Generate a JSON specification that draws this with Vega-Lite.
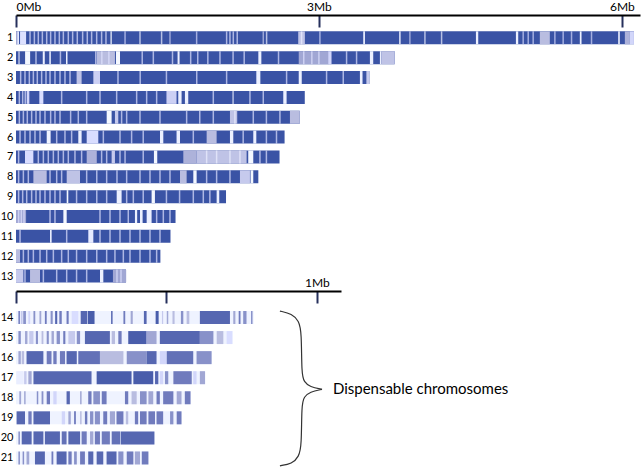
{
"$schema":"https://vega.github.io/schema/vega-lite/v6.json",
"padding":{"left":0,"top":0,"right":0,"bottom":0},
"bounds":"flush",
"spacing":5,
"config":{"view":{"stroke":null},"font":"Lato","axis":{"labelFont":"Lato","labelColor":"#000","grid":false,"title":null,"labelOverlap":false}},
"datasets":{
"chromosomes":[
{"chr":1,"start":0,"length":6.12,"density":1},{"chr":2,"start":0,"length":3.75,"density":1},{"chr":3,"start":0,"length":3.5,"density":1},{"chr":4,"start":0,"length":2.86,"density":1},{"chr":5,"start":0,"length":2.81,"density":1},{"chr":6,"start":0,"length":2.66,"density":1},{"chr":7,"start":0,"length":2.61,"density":1},{"chr":8,"start":0,"length":2.4,"density":1},{"chr":9,"start":0,"length":2.08,"density":1},{"chr":10,"start":0,"length":1.58,"density":1},{"chr":11,"start":0,"length":1.53,"density":1},{"chr":12,"start":0,"length":1.43,"density":1},{"chr":13,"start":0,"length":1.09,"density":1},
{"chr":14,"start":0,"length":0.79,"density":0.08},{"chr":15,"start":0,"length":0.72,"density":0.08},{"chr":16,"start":0,"length":0.65,"density":0.08},{"chr":17,"start":0,"length":0.63,"density":0.08},{"chr":18,"start":0,"length":0.58,"density":0.08},{"chr":19,"start":0,"length":0.55,"density":0.08},{"chr":20,"start":0,"length":0.46,"density":0.08},{"chr":21,"start":0,"length":0.44,"density":0.08}],
"regions":[
{"chr":1,"start":0,"end":0.012,"density":0.6},{"chr":1,"start":0.012,"end":0.03,"density":0.15},{"chr":1,"start":0.04,"end":0.1,"density":0.22},{"chr":1,"start":0.936,"end":0.948,"density":0.05},{"chr":1,"start":2.795,"end":2.861,"density":0.45},{"chr":1,"start":3.439,"end":3.456,"density":0.1},{"chr":1,"start":3.795,"end":3.809,"density":0.1},{"chr":1,"start":4.555,"end":4.578,"density":0.1},{"chr":1,"start":4.951,"end":4.974,"density":0.1},{"chr":1,"start":5.188,"end":5.287,"density":0.5},{"chr":1,"start":5.584,"end":5.601,"density":0.1},{"chr":1,"start":5.964,"end":5.98,"density":0.1},{"chr":1,"start":6.03,"end":6.08,"density":0.55},{"chr":1,"start":6.08,"end":6.12,"density":0.3},
{"chr":2,"start":0.09,"end":0.14,"density":0.05},{"chr":2,"start":0.265,"end":0.285,"density":0.1},{"chr":2,"start":0.33,"end":0.345,"density":0.1},{"chr":2,"start":0.495,"end":0.51,"density":0.1},{"chr":2,"start":0.8,"end":0.98,"density":0.5},{"chr":2,"start":0.99,"end":1.03,"density":0.03},{"chr":2,"start":1.6,"end":1.62,"density":0.1},{"chr":2,"start":2.4,"end":2.43,"density":0.1},{"chr":2,"start":2.8,"end":3.1,"density":0.6},{"chr":2,"start":3.093,"end":3.125,"density":0.3},{"chr":2,"start":3.505,"end":3.538,"density":0.1},{"chr":2,"start":3.604,"end":3.62,"density":0.1},{"chr":2,"start":3.62,"end":3.75,"density":0.45},
{"chr":3,"start":0.6,"end":0.65,"density":0.45},{"chr":3,"start":0.766,"end":0.832,"density":0.35},{"chr":3,"start":2.38,"end":2.42,"density":0.1},{"chr":3,"start":2.8,"end":2.83,"density":0.1},{"chr":3,"start":3.406,"end":3.432,"density":0.1},{"chr":3,"start":3.47,"end":3.5,"density":0.4},
{"chr":4,"start":0.106,"end":0.132,"density":0.3},{"chr":4,"start":0.231,"end":0.271,"density":0.25},{"chr":4,"start":1.49,"end":1.59,"density":0.35},{"chr":4,"start":1.607,"end":1.64,"density":0.1},{"chr":4,"start":1.673,"end":1.706,"density":0.1},{"chr":4,"start":2.647,"end":2.68,"density":0.1},
{"chr":5,"start":0.898,"end":0.947,"density":0.05},{"chr":5,"start":0.98,"end":1.013,"density":0.4},{"chr":5,"start":2.119,"end":2.191,"density":0.45},{"chr":5,"start":2.713,"end":2.81,"density":0.5},
{"chr":6,"start":0.304,"end":0.343,"density":0.08},{"chr":6,"start":0.617,"end":0.65,"density":0.1},{"chr":6,"start":0.7,"end":0.815,"density":0.25},{"chr":6,"start":1.426,"end":1.459,"density":0.1},{"chr":6,"start":1.59,"end":1.624,"density":0.1},{"chr":6,"start":1.888,"end":1.987,"density":0.5},{"chr":6,"start":2.119,"end":2.152,"density":0.1},{"chr":6,"start":2.35,"end":2.38,"density":0.1},
{"chr":7,"start":0.089,"end":0.172,"density":0.25},{"chr":7,"start":0.7,"end":0.8,"density":0.55},{"chr":7,"start":0.947,"end":0.98,"density":0.4},{"chr":7,"start":1.366,"end":1.399,"density":0.05},{"chr":7,"start":1.657,"end":1.789,"density":0.55},{"chr":7,"start":1.789,"end":2.284,"density":0.45},{"chr":7,"start":2.3,"end":2.35,"density":0.05},
{"chr":8,"start":0.172,"end":0.304,"density":0.5},{"chr":8,"start":0.502,"end":0.634,"density":0.45},{"chr":8,"start":1.624,"end":1.69,"density":0.5},{"chr":8,"start":1.756,"end":1.789,"density":0.05},{"chr":8,"start":2.218,"end":2.317,"density":0.4},{"chr":8,"start":2.323,"end":2.35,"density":0.05},
{"chr":9,"start":0.502,"end":0.518,"density":0.05},{"chr":9,"start":0.997,"end":1.046,"density":0.1},{"chr":9,"start":1.343,"end":1.376,"density":0.05},{"chr":9,"start":1.987,"end":2.013,"density":0.1},
{"chr":10,"start":0,"end":0.1,"density":0.6},{"chr":10,"start":0.469,"end":0.502,"density":0.05},{"chr":10,"start":1.178,"end":1.2,"density":0.1},{"chr":10,"start":1.228,"end":1.254,"density":0.1},{"chr":10,"start":1.294,"end":1.343,"density":0.1},
{"chr":11,"start":0.337,"end":0.353,"density":0.1},{"chr":11,"start":0.716,"end":0.766,"density":0.15},
{"chr":12,"start":0,"end":0.04,"density":0.5},
{"chr":13,"start":0,"end":0.073,"density":0.4},{"chr":13,"start":0.139,"end":0.238,"density":0.5},{"chr":13,"start":0.832,"end":0.865,"density":0.1},{"chr":13,"start":0.96,"end":1.09,"density":0.6},
{"chr":14,"start":0.008,"end":0.013,"density":0.8},{"chr":14,"start":0.016,"end":0.022,"density":0.4},{"chr":14,"start":0.024,"end":0.033,"density":0.7},{"chr":14,"start":0.041,"end":0.047,"density":0.3},{"chr":14,"start":0.058,"end":0.064,"density":0.7},{"chr":14,"start":0.078,"end":0.084,"density":0.6},{"chr":14,"start":0.096,"end":0.102,"density":0.8},{"chr":14,"start":0.115,"end":0.122,"density":0.7},{"chr":14,"start":0.13,"end":0.137,"density":0.9},{"chr":14,"start":0.144,"end":0.152,"density":0.8},{"chr":14,"start":0.168,"end":0.175,"density":0.8},{"chr":14,"start":0.185,"end":0.207,"density":0.25},{"chr":14,"start":0.215,"end":0.237,"density":0.9},{"chr":14,"start":0.239,"end":0.261,"density":0.95},{"chr":14,"start":0.316,"end":0.321,"density":0.9},{"chr":14,"start":0.357,"end":0.363,"density":0.8},{"chr":14,"start":0.381,"end":0.388,"density":0.6},{"chr":14,"start":0.425,"end":0.434,"density":0.9},{"chr":14,"start":0.464,"end":0.474,"density":0.95},{"chr":14,"start":0.485,"end":0.489,"density":0.4},{"chr":14,"start":0.501,"end":0.506,"density":0.6},{"chr":14,"start":0.52,"end":0.527,"density":0.5},{"chr":14,"start":0.548,"end":0.556,"density":0.7},{"chr":14,"start":0.567,"end":0.576,"density":0.5},{"chr":14,"start":0.611,"end":0.711,"density":0.9},{"chr":14,"start":0.722,"end":0.729,"density":0.6},{"chr":14,"start":0.74,"end":0.746,"density":0.8},{"chr":14,"start":0.755,"end":0.766,"density":0.7},{"chr":14,"start":0.781,"end":0.786,"density":0.7},
{"chr":15,"start":0.008,"end":0.016,"density":0.7},{"chr":15,"start":0.03,"end":0.038,"density":0.6},{"chr":15,"start":0.044,"end":0.058,"density":0.4},{"chr":15,"start":0.066,"end":0.073,"density":0.7},{"chr":15,"start":0.085,"end":0.091,"density":0.5},{"chr":15,"start":0.102,"end":0.109,"density":0.7},{"chr":15,"start":0.118,"end":0.126,"density":0.6},{"chr":15,"start":0.135,"end":0.146,"density":0.7},{"chr":15,"start":0.157,"end":0.164,"density":0.8},{"chr":15,"start":0.174,"end":0.196,"density":0.4},{"chr":15,"start":0.202,"end":0.213,"density":0.7},{"chr":15,"start":0.229,"end":0.312,"density":0.9},{"chr":15,"start":0.318,"end":0.329,"density":0.5},{"chr":15,"start":0.34,"end":0.351,"density":0.8},{"chr":15,"start":0.373,"end":0.434,"density":0.95},{"chr":15,"start":0.434,"end":0.467,"density":0.6},{"chr":15,"start":0.478,"end":0.611,"density":0.9},{"chr":15,"start":0.611,"end":0.656,"density":0.7},{"chr":15,"start":0.667,"end":0.689,"density":0.5},{"chr":15,"start":0.7,"end":0.719,"density":0.25},
{"chr":16,"start":0.008,"end":0.016,"density":0.6},{"chr":16,"start":0.019,"end":0.027,"density":0.5},{"chr":16,"start":0.035,"end":0.091,"density":0.9},{"chr":16,"start":0.102,"end":0.118,"density":0.8},{"chr":16,"start":0.124,"end":0.135,"density":0.8},{"chr":16,"start":0.146,"end":0.163,"density":0.8},{"chr":16,"start":0.168,"end":0.202,"density":0.9},{"chr":16,"start":0.207,"end":0.279,"density":0.85},{"chr":16,"start":0.279,"end":0.357,"density":0.5},{"chr":16,"start":0.368,"end":0.434,"density":0.7},{"chr":16,"start":0.434,"end":0.467,"density":0.9},{"chr":16,"start":0.478,"end":0.501,"density":0.3},{"chr":16,"start":0.501,"end":0.589,"density":0.85},{"chr":16,"start":0.6,"end":0.65,"density":0.7},
{"chr":17,"start":0.002,"end":0.024,"density":0.12},{"chr":17,"start":0.027,"end":0.035,"density":0.4},{"chr":17,"start":0.041,"end":0.052,"density":0.6},{"chr":17,"start":0.058,"end":0.251,"density":0.9},{"chr":17,"start":0.268,"end":0.384,"density":0.95},{"chr":17,"start":0.39,"end":0.456,"density":0.95},{"chr":17,"start":0.462,"end":0.473,"density":0.9},{"chr":17,"start":0.478,"end":0.489,"density":0.3},{"chr":17,"start":0.495,"end":0.506,"density":0.7},{"chr":17,"start":0.523,"end":0.584,"density":0.8},{"chr":17,"start":0.589,"end":0.6,"density":0.3},{"chr":17,"start":0.611,"end":0.628,"density":0.6},
{"chr":18,"start":0.011,"end":0.017,"density":0.6},{"chr":18,"start":0.027,"end":0.032,"density":0.6},{"chr":18,"start":0.069,"end":0.074,"density":0.7},{"chr":18,"start":0.085,"end":0.091,"density":0.7},{"chr":18,"start":0.102,"end":0.113,"density":0.8},{"chr":18,"start":0.124,"end":0.135,"density":0.3},{"chr":18,"start":0.168,"end":0.179,"density":0.9},{"chr":18,"start":0.213,"end":0.218,"density":0.6},{"chr":18,"start":0.24,"end":0.251,"density":0.8},{"chr":18,"start":0.257,"end":0.279,"density":0.7},{"chr":18,"start":0.285,"end":0.301,"density":0.8},{"chr":18,"start":0.362,"end":0.373,"density":0.8},{"chr":18,"start":0.384,"end":0.401,"density":0.5},{"chr":18,"start":0.412,"end":0.434,"density":0.7},{"chr":18,"start":0.44,"end":0.456,"density":0.6},{"chr":18,"start":0.467,"end":0.478,"density":0.8},{"chr":18,"start":0.489,"end":0.523,"density":0.8},{"chr":18,"start":0.534,"end":0.55,"density":0.6},{"chr":18,"start":0.561,"end":0.58,"density":0.8},
{"chr":19,"start":0.002,"end":0.03,"density":0.9},{"chr":19,"start":0.041,"end":0.052,"density":0.8},{"chr":19,"start":0.058,"end":0.113,"density":0.9},{"chr":19,"start":0.152,"end":0.163,"density":0.3},{"chr":19,"start":0.174,"end":0.182,"density":0.6},{"chr":19,"start":0.193,"end":0.199,"density":0.8},{"chr":19,"start":0.213,"end":0.218,"density":0.5},{"chr":19,"start":0.229,"end":0.237,"density":0.8},{"chr":19,"start":0.246,"end":0.257,"density":0.7},{"chr":19,"start":0.262,"end":0.279,"density":0.7},{"chr":19,"start":0.29,"end":0.303,"density":0.8},{"chr":19,"start":0.312,"end":0.329,"density":0.6},{"chr":19,"start":0.334,"end":0.357,"density":0.8},{"chr":19,"start":0.365,"end":0.373,"density":0.5},{"chr":19,"start":0.395,"end":0.406,"density":0.8},{"chr":19,"start":0.412,"end":0.434,"density":0.8},{"chr":19,"start":0.44,"end":0.462,"density":0.8},{"chr":19,"start":0.467,"end":0.489,"density":0.8},{"chr":19,"start":0.512,"end":0.523,"density":0.7},{"chr":19,"start":0.534,"end":0.55,"density":0.8},
{"chr":20,"start":0.008,"end":0.013,"density":0.7},{"chr":20,"start":0.019,"end":0.052,"density":0.9},{"chr":20,"start":0.058,"end":0.091,"density":0.9},{"chr":20,"start":0.096,"end":0.146,"density":0.9},{"chr":20,"start":0.152,"end":0.168,"density":0.85},{"chr":20,"start":0.174,"end":0.213,"density":0.9},{"chr":20,"start":0.218,"end":0.235,"density":0.8},{"chr":20,"start":0.246,"end":0.257,"density":0.6},{"chr":20,"start":0.262,"end":0.279,"density":0.8},{"chr":20,"start":0.285,"end":0.312,"density":0.8},{"chr":20,"start":0.318,"end":0.346,"density":0.85},{"chr":20,"start":0.348,"end":0.46,"density":0.9},
{"chr":21,"start":0.008,"end":0.013,"density":0.7},{"chr":21,"start":0.022,"end":0.027,"density":0.7},{"chr":21,"start":0.035,"end":0.044,"density":0.6},{"chr":21,"start":0.063,"end":0.096,"density":0.9},{"chr":21,"start":0.118,"end":0.124,"density":0.8},{"chr":21,"start":0.135,"end":0.168,"density":0.9},{"chr":21,"start":0.174,"end":0.185,"density":0.8},{"chr":21,"start":0.193,"end":0.202,"density":0.7},{"chr":21,"start":0.213,"end":0.229,"density":0.8},{"chr":21,"start":0.24,"end":0.257,"density":0.9},{"chr":21,"start":0.268,"end":0.29,"density":0.9},{"chr":21,"start":0.301,"end":0.334,"density":0.9},{"chr":21,"start":0.34,"end":0.357,"density":0.7},{"chr":21,"start":0.368,"end":0.39,"density":0.8},{"chr":21,"start":0.395,"end":0.412,"density":0.6},{"chr":21,"start":0.418,"end":0.44,"density":0.8}],
"stripes":[
{"chr":1,"pos":0.139,"density":0.2},{"chr":1,"pos":0.182,"density":0.2},{"chr":1,"pos":0.221,"density":0.2},{"chr":1,"pos":0.261,"density":0.2},{"chr":1,"pos":0.304,"density":0.2},{"chr":1,"pos":0.343,"density":0.2},{"chr":1,"pos":0.386,"density":0.2},{"chr":1,"pos":0.429,"density":0.2},{"chr":1,"pos":0.469,"density":0.2},{"chr":1,"pos":0.518,"density":0.2},{"chr":1,"pos":0.561,"density":0.2},{"chr":1,"pos":0.607,"density":0.2},{"chr":1,"pos":0.66,"density":0.2},{"chr":1,"pos":0.706,"density":0.2},{"chr":1,"pos":0.749,"density":0.2},{"chr":1,"pos":0.799,"density":0.2},{"chr":1,"pos":0.848,"density":0.2},{"chr":1,"pos":0.891,"density":0.2},{"chr":1,"pos":1.08,"density":0.3},{"chr":1,"pos":1.228,"density":0.1},{"chr":1,"pos":1.442,"density":0.1},{"chr":1,"pos":1.525,"density":0.4},{"chr":1,"pos":1.789,"density":0.3},{"chr":1,"pos":2.086,"density":0.2},{"chr":1,"pos":2.119,"density":0.2},{"chr":1,"pos":2.152,"density":0.2},{"chr":1,"pos":2.191,"density":0.2},{"chr":1,"pos":2.449,"density":0.4},{"chr":1,"pos":2.482,"density":0.1},{"chr":1,"pos":2.828,"density":0.1},{"chr":1,"pos":3.01,"density":0.3},{"chr":1,"pos":3.901,"density":0.4},{"chr":1,"pos":4.05,"density":0.1},{"chr":1,"pos":4.215,"density":0.1},{"chr":1,"pos":5.023,"density":0.3},{"chr":1,"pos":5.073,"density":0.3},{"chr":1,"pos":5.122,"density":0.3},{"chr":1,"pos":5.337,"density":0.3},{"chr":1,"pos":5.419,"density":0.3},{"chr":1,"pos":5.502,"density":0.3},{"chr":1,"pos":5.7,"density":0.3},
{"chr":2,"pos":0.03,"density":0.1},{"chr":2,"pos":0.198,"density":0.2},{"chr":2,"pos":0.44,"density":0.2},{"chr":2,"pos":0.79,"density":0.2},{"chr":2,"pos":0.85,"density":0.2},{"chr":2,"pos":0.92,"density":0.2},{"chr":2,"pos":1.25,"density":0.2},{"chr":2,"pos":1.36,"density":0.2},{"chr":2,"pos":1.55,"density":0.2},{"chr":2,"pos":1.73,"density":0.2},{"chr":2,"pos":1.8,"density":0.2},{"chr":2,"pos":1.9,"density":0.2},{"chr":2,"pos":2.02,"density":0.2},{"chr":2,"pos":2.15,"density":0.2},{"chr":2,"pos":2.26,"density":0.2},{"chr":2,"pos":2.6,"density":0.2},{"chr":2,"pos":2.85,"density":0.2},{"chr":2,"pos":2.93,"density":0.2},{"chr":2,"pos":3.0,"density":0.2},{"chr":2,"pos":3.274,"density":0.2},{"chr":2,"pos":3.373,"density":0.2},
{"chr":3,"pos":0.046,"density":0.2},{"chr":3,"pos":0.089,"density":0.2},{"chr":3,"pos":0.132,"density":0.2},{"chr":3,"pos":0.172,"density":0.2},{"chr":3,"pos":0.211,"density":0.2},{"chr":3,"pos":0.254,"density":0.2},{"chr":3,"pos":0.297,"density":0.2},{"chr":3,"pos":0.337,"density":0.2},{"chr":3,"pos":0.386,"density":0.2},{"chr":3,"pos":0.436,"density":0.2},{"chr":3,"pos":0.485,"density":0.2},{"chr":3,"pos":0.535,"density":0.2},{"chr":3,"pos":1.01,"density":0.2},{"chr":3,"pos":1.23,"density":0.2},{"chr":3,"pos":1.49,"density":0.2},{"chr":3,"pos":1.79,"density":0.2},{"chr":3,"pos":2.086,"density":0.2},{"chr":3,"pos":2.68,"density":0.2},{"chr":3,"pos":3.076,"density":0.2},{"chr":3,"pos":3.241,"density":0.2},
{"chr":4,"pos":0.033,"density":0.2},{"chr":4,"pos":0.066,"density":0.2},{"chr":4,"pos":0.092,"density":0.2},{"chr":4,"pos":0.452,"density":0.2},{"chr":4,"pos":0.7,"density":0.2},{"chr":4,"pos":0.832,"density":0.2},{"chr":4,"pos":0.997,"density":0.2},{"chr":4,"pos":1.195,"density":0.2},{"chr":4,"pos":1.294,"density":0.2},{"chr":4,"pos":1.393,"density":0.2},{"chr":4,"pos":1.954,"density":0.2},{"chr":4,"pos":2.15,"density":0.1},{"chr":4,"pos":2.317,"density":0.2},{"chr":4,"pos":2.449,"density":0.2},
{"chr":5,"pos":0.033,"density":0.2},{"chr":5,"pos":0.073,"density":0.2},{"chr":5,"pos":0.112,"density":0.2},{"chr":5,"pos":0.155,"density":0.2},{"chr":5,"pos":0.198,"density":0.2},{"chr":5,"pos":0.238,"density":0.2},{"chr":5,"pos":0.287,"density":0.2},{"chr":5,"pos":0.343,"density":0.2},{"chr":5,"pos":0.386,"density":0.2},{"chr":5,"pos":0.436,"density":0.2},{"chr":5,"pos":0.541,"density":0.2},{"chr":5,"pos":0.617,"density":0.2},{"chr":5,"pos":0.7,"density":0.2},{"chr":5,"pos":1.046,"density":0.2},{"chr":5,"pos":1.096,"density":0.2},{"chr":5,"pos":1.228,"density":0.2},{"chr":5,"pos":1.426,"density":0.2},{"chr":5,"pos":1.69,"density":0.2},{"chr":5,"pos":1.82,"density":0.2},{"chr":5,"pos":1.954,"density":0.2},{"chr":5,"pos":2.168,"density":0.1},{"chr":5,"pos":2.35,"density":0.2},{"chr":5,"pos":2.48,"density":0.2},{"chr":5,"pos":2.614,"density":0.2},
{"chr":6,"pos":0.04,"density":0.2},{"chr":6,"pos":0.089,"density":0.2},{"chr":6,"pos":0.139,"density":0.2},{"chr":6,"pos":0.188,"density":0.2},{"chr":6,"pos":0.238,"density":0.2},{"chr":6,"pos":0.403,"density":0.2},{"chr":6,"pos":0.485,"density":0.2},{"chr":6,"pos":0.551,"density":0.2},{"chr":6,"pos":0.865,"density":0.2},{"chr":6,"pos":1.03,"density":0.2},{"chr":6,"pos":1.145,"density":0.2},{"chr":6,"pos":1.26,"density":0.2},{"chr":6,"pos":1.756,"density":0.2},{"chr":6,"pos":2.25,"density":0.2},{"chr":6,"pos":2.48,"density":0.2},{"chr":6,"pos":2.58,"density":0.2},
{"chr":7,"pos":0.026,"density":0.2},{"chr":7,"pos":0.221,"density":0.2},{"chr":7,"pos":0.271,"density":0.2},{"chr":7,"pos":0.32,"density":0.2},{"chr":7,"pos":0.37,"density":0.2},{"chr":7,"pos":0.419,"density":0.2},{"chr":7,"pos":0.469,"density":0.2},{"chr":7,"pos":0.518,"density":0.2},{"chr":7,"pos":0.584,"density":0.2},{"chr":7,"pos":0.65,"density":0.2},{"chr":7,"pos":0.848,"density":0.2},{"chr":7,"pos":0.898,"density":0.2},{"chr":7,"pos":1.03,"density":0.2},{"chr":7,"pos":1.08,"density":0.2},{"chr":7,"pos":1.26,"density":0.2},{"chr":7,"pos":1.888,"density":0.1},{"chr":7,"pos":1.987,"density":0.1},{"chr":7,"pos":2.119,"density":0.1},{"chr":7,"pos":2.218,"density":0.1},{"chr":7,"pos":2.416,"density":0.2},{"chr":7,"pos":2.48,"density":0.2},
{"chr":8,"pos":0.026,"density":0.2},{"chr":8,"pos":0.073,"density":0.2},{"chr":8,"pos":0.122,"density":0.2},{"chr":8,"pos":0.337,"density":0.2},{"chr":8,"pos":0.403,"density":0.2},{"chr":8,"pos":0.452,"density":0.2},{"chr":8,"pos":0.7,"density":0.2},{"chr":8,"pos":0.8,"density":0.2},{"chr":8,"pos":0.898,"density":0.2},{"chr":8,"pos":1.0,"density":0.2},{"chr":8,"pos":1.096,"density":0.2},{"chr":8,"pos":1.228,"density":0.2},{"chr":8,"pos":1.327,"density":0.2},{"chr":8,"pos":1.426,"density":0.2},{"chr":8,"pos":1.525,"density":0.2},{"chr":8,"pos":1.888,"density":0.2},{"chr":8,"pos":1.987,"density":0.2},{"chr":8,"pos":2.119,"density":0.2},
{"chr":9,"pos":0.026,"density":0.2},{"chr":9,"pos":0.066,"density":0.2},{"chr":9,"pos":0.106,"density":0.2},{"chr":9,"pos":0.155,"density":0.2},{"chr":9,"pos":0.198,"density":0.2},{"chr":9,"pos":0.238,"density":0.2},{"chr":9,"pos":0.287,"density":0.2},{"chr":9,"pos":0.337,"density":0.2},{"chr":9,"pos":0.386,"density":0.2},{"chr":9,"pos":0.436,"density":0.2},{"chr":9,"pos":0.6,"density":0.2},{"chr":9,"pos":0.7,"density":0.2},{"chr":9,"pos":0.8,"density":0.2},{"chr":9,"pos":0.898,"density":0.2},{"chr":9,"pos":1.096,"density":0.2},{"chr":9,"pos":1.162,"density":0.2},{"chr":9,"pos":1.26,"density":0.2},{"chr":9,"pos":1.49,"density":0.2},{"chr":9,"pos":1.62,"density":0.2},{"chr":9,"pos":1.756,"density":0.2},{"chr":9,"pos":1.855,"density":0.2},{"chr":9,"pos":1.92,"density":0.2},
{"chr":10,"pos":0.026,"density":0.2},{"chr":10,"pos":0.053,"density":0.2},{"chr":10,"pos":0.079,"density":0.2},{"chr":10,"pos":0.337,"density":0.2},{"chr":10,"pos":0.386,"density":0.2},{"chr":10,"pos":0.832,"density":0.2},{"chr":10,"pos":0.931,"density":0.2},{"chr":10,"pos":1.03,"density":0.2},{"chr":10,"pos":1.112,"density":0.2},{"chr":10,"pos":1.393,"density":0.2},{"chr":10,"pos":1.459,"density":0.2},{"chr":10,"pos":1.525,"density":0.2},
{"chr":11,"pos":0.04,"density":0.2},{"chr":11,"pos":0.502,"density":0.2},{"chr":11,"pos":0.832,"density":0.2},{"chr":11,"pos":0.931,"density":0.2},{"chr":11,"pos":1.03,"density":0.2},{"chr":11,"pos":1.129,"density":0.2},{"chr":11,"pos":1.228,"density":0.2},{"chr":11,"pos":1.327,"density":0.2},{"chr":11,"pos":1.426,"density":0.2},
{"chr":12,"pos":0.073,"density":0.2},{"chr":12,"pos":0.122,"density":0.2},{"chr":12,"pos":0.172,"density":0.2},{"chr":12,"pos":0.238,"density":0.2},{"chr":12,"pos":0.304,"density":0.2},{"chr":12,"pos":0.37,"density":0.2},{"chr":12,"pos":0.452,"density":0.2},{"chr":12,"pos":0.518,"density":0.2},{"chr":12,"pos":0.6,"density":0.2},{"chr":12,"pos":0.7,"density":0.2},{"chr":12,"pos":0.8,"density":0.2},{"chr":12,"pos":0.898,"density":0.2},{"chr":12,"pos":0.98,"density":0.2},{"chr":12,"pos":1.063,"density":0.2},{"chr":12,"pos":1.129,"density":0.2},{"chr":12,"pos":1.228,"density":0.2},{"chr":12,"pos":1.327,"density":0.2},{"chr":12,"pos":1.393,"density":0.2},
{"chr":13,"pos":0.089,"density":0.2},{"chr":13,"pos":0.271,"density":0.2},{"chr":13,"pos":0.403,"density":0.2},{"chr":13,"pos":0.502,"density":0.2},{"chr":13,"pos":0.6,"density":0.2},{"chr":13,"pos":0.7,"density":0.2},{"chr":13,"pos":1.0,"density":0.2},{"chr":13,"pos":1.04,"density":0.2}],
"brace":[
{"part":"upper","seq":1,"pos":0.877,"row":13.68},{"part":"upper","seq":2,"pos":0.917,"row":13.82},{"part":"upper","seq":3,"pos":0.94,"row":14.17},{"part":"upper","seq":4,"pos":0.949,"row":14.72},{"part":"upper","seq":5,"pos":0.949,"row":16.81},{"part":"upper","seq":6,"pos":0.957,"row":17.21},{"part":"upper","seq":7,"pos":0.977,"row":17.46},{"part":"upper","seq":8,"pos":1.017,"row":17.58},
{"part":"lower","seq":1,"pos":1.017,"row":17.58},{"part":"lower","seq":2,"pos":0.977,"row":17.7},{"part":"lower","seq":3,"pos":0.957,"row":17.95},{"part":"lower","seq":4,"pos":0.949,"row":18.35},{"part":"lower","seq":5,"pos":0.949,"row":20.39},{"part":"lower","seq":6,"pos":0.94,"row":20.94},{"part":"lower","seq":7,"pos":0.917,"row":21.29},{"part":"lower","seq":8,"pos":0.877,"row":21.39}],
"note":[{"label":"Dispensable chromosomes","pos":1.053,"row":17.58}]
},
"vconcat":[
{"width":624,"height":271,
"layer":[
{"data":{"name":"chromosomes"},"transform":[{"filter":"datum.chr <= 13"}],
"mark":{"type":"rule","strokeWidth":13,"strokeCap":"butt"},
"encoding":{
"x":{"field":"start","type":"quantitative","scale":{"domain":[0,6.18],"nice":false,"zero":false},"axis":{"orient":"top","values":[0,3,6],"labelExpr":"datum.value + 'Mb'","domainColor":"#000","domainWidth":2,"tickColor":"#26305c","tickWidth":2,"tickSize":-12,"labelPadding":14,"labelFontSize":12,"labelFlush":true}},
"x2":{"field":"length"},
"y":{"field":"chr","type":"quantitative","scale":{"domain":[-0.15,13.5],"reverse":true,"nice":false,"zero":false},"axis":{"values":[1,2,3,4,5,6,7,8,9,10,11,12,13],"tickCount":40,"format":"d","labelOverlap":false,"labelBound":false,"labelFlush":false,"domain":false,"ticks":false,"labelPadding":3,"labelFontSize":11}},
"color":{"field":"density","type":"quantitative","scale":{"domain":[0,0.5,1],"range":["#ffffff","#b9bde0","#3a53a5"]},"legend":null}}},
{"data":{"name":"regions"},"transform":[{"filter":"datum.chr <= 13"}],
"mark":{"type":"rule","strokeWidth":13,"strokeCap":"butt"},
"encoding":{
"x":{"field":"start","type":"quantitative"},"x2":{"field":"end"},
"y":{"field":"chr","type":"quantitative"},
"color":{"field":"density","type":"quantitative","legend":null}}},
{"data":{"name":"stripes"},"transform":[{"filter":"datum.chr <= 13"}],
"mark":{"type":"tick","orient":"vertical","size":13,"thickness":1.5},
"encoding":{
"x":{"field":"pos","type":"quantitative"},
"y":{"field":"chr","type":"quantitative"},
"color":{"field":"density","type":"quantitative","legend":null}}}
]},
{"width":325,"height":175,
"layer":[
{"data":{"name":"chromosomes"},"transform":[{"filter":"datum.chr >= 14"}],
"mark":{"type":"rule","strokeWidth":13,"strokeCap":"butt"},
"encoding":{
"x":{"field":"start","type":"quantitative","scale":{"domain":[0,1.08],"nice":false,"zero":false},"axis":{"orient":"top","values":[0,0.5,1],"labelExpr":"datum.value == 1 ? '1Mb' : ''","domainColor":"#000","domainWidth":2,"tickColor":"#26305c","tickWidth":2,"tickSize":-12,"labelPadding":14,"labelFontSize":12,"labelFlush":false}},
"x2":{"field":"length"},
"y":{"field":"chr","type":"quantitative","scale":{"domain":[12.68,21.4],"reverse":true,"nice":false,"zero":false},"axis":{"values":[14,15,16,17,18,19,20,21],"tickCount":40,"format":"d","labelOverlap":false,"labelBound":false,"labelFlush":false,"domain":false,"ticks":false,"labelPadding":3,"labelFontSize":11}},
"color":{"field":"density","type":"quantitative","scale":{"domain":[0,0.5,1],"range":["#ffffff","#b9bde0","#3a53a5"]},"legend":null}}},
{"data":{"name":"regions"},"transform":[{"filter":"datum.chr >= 14"}],
"mark":{"type":"rule","strokeWidth":13,"strokeCap":"butt"},
"encoding":{
"x":{"field":"start","type":"quantitative"},"x2":{"field":"end"},
"y":{"field":"chr","type":"quantitative"},
"color":{"field":"density","type":"quantitative","legend":null}}},
{"data":{"name":"brace"},
"mark":{"type":"line","interpolate":"basis","stroke":"#333333","strokeWidth":1.2},
"encoding":{
"x":{"field":"pos","type":"quantitative"},
"y":{"field":"row","type":"quantitative"},
"detail":{"field":"part"},
"order":{"field":"seq"}}},
{"data":{"name":"note"},
"mark":{"type":"text","align":"left","baseline":"middle","fontSize":15,"font":"Lato","color":"#000"},
"encoding":{
"x":{"field":"pos","type":"quantitative"},
"y":{"field":"row","type":"quantitative"},
"text":{"field":"label"}}}
]}
]
}
